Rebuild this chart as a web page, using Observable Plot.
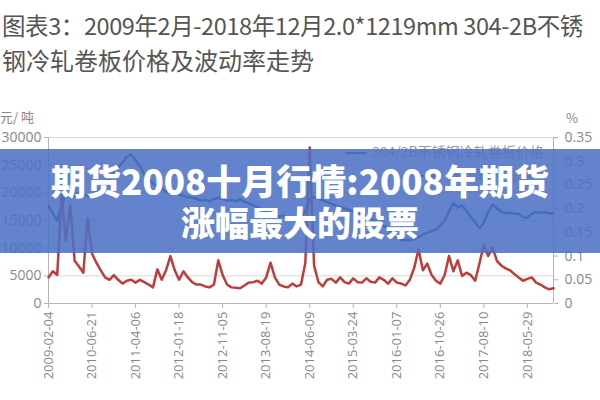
<!DOCTYPE html>
<html>
<head>
<meta charset="utf-8">
<script src="https://cdn.jsdelivr.net/npm/d3@7"></script>
<script src="https://cdn.jsdelivr.net/npm/@observablehq/plot@0.6"></script>
<style>
  html, body { margin: 0; padding: 0; background: #fff; }
  #wrap { position: relative; width: 600px; height: 400px; overflow: hidden; background: #fff;
          font-family: "Noto Sans CJK SC", "Noto Sans", sans-serif; }
  .title { position: absolute; left: 2px; color: #555; font-size: 23.5px; line-height: 28px; white-space: nowrap; }
  .unit { position: absolute; color: #888; font-size: 13px; line-height: 14px; white-space: nowrap; }
  #chart { position: absolute; left: 0; top: 100px; }
  .legend { position: absolute; font-size: 14px; line-height: 16px; color: #999; white-space: nowrap; }
  .legend i { display: inline-block; width: 22px; height: 0; border-top: 2.5px solid; vertical-align: middle; margin-right: 5px; }
  #banner { position: absolute; left: 0; top: 149px; width: 600px; height: 104px; background: rgba(76,114,196,0.87); }
  #banner div { position: absolute; left: 0; width: 600px; text-align: center; color: #fff; font-weight: 900;
                line-height: 38px; white-space: nowrap; font-family: "Noto Sans CJK SC", sans-serif; }
</style>
</head>
<body>
<div id="wrap">
  <div class="title" style="top:11px;letter-spacing:-0.4px">图表3：2009年2月-2018年12月2.0*1219mm 304-2B不锈</div>
  <div class="title" style="top:46px;font-size:24px">钢冷轧卷板价格及波动率走势</div>
  <div class="unit" style="left:0px;top:110px">元/ 吨</div>
  <div class="unit" style="left:566px;top:111px">%</div>
  <div id="chart"></div>
  <div class="legend" style="left:345px;top:143px"><i style="border-color:#24508f"></i>304/2B不锈钢冷轧卷板价格</div>
  <div class="legend" style="left:420px;top:166px"><i style="border-color:#bd3d3d"></i>波动率（右轴）</div>
  <div id="banner">
    <div style="top:12px;font-size:35px">期货2008十月行情:2008年期货</div>
    <div style="top:54px;font-size:34px">涨幅最大的股票</div>
  </div>
</div>
<script>
// x tick labels (category axis, one label every 10 samples)
const dateLabels = ["2009-02-04","2010-06-21","2011-04-06","2012-01-18","2012-11-05","2013-08-19",
                    "2014-06-09","2015-03-24","2016-01-07","2016-10-26","2017-08-10","2018-05-29"];
const priceTicks = [0, 5000, 10000, 15000, 20000, 25000, 30000];
const volTicks = [0, 0.05, 0.1, 0.15, 0.2, 0.25, 0.3, 0.35];

// 304/2B cold-rolled coil price (元/吨)
const price = [17600,16300,15000,17500,19800,19200,19500,20000,19600,19400,
               19800,20100,20500,21300,22400,23500,24600,25500,26500,26900,
               25900,24800,23300,22500,21700,21200,20800,20200,20000,19900,
               19700,19500,19200,19100,18900,18600,18700,18500,18900,19100,
               18900,18600,18700,18500,18800,18400,18100,17800,17400,17000,
               16700,16300,16000,15700,15800,15400,15300,15100,15200,16800,
               18800,19200,18900,18700,18300,18000,17700,17400,17200,16900,
               16600,16400,16000,15600,15300,14900,14500,14000,13500,12600,
               11900,11400,11500,11400,11700,12000,12500,12800,13100,13400,
               14100,15000,16600,18100,17400,17700,16700,15700,14700,13600,
               14600,16600,17900,17200,16600,16300,16400,16200,16200,15600,
               15500,16200,16500,16400,16500,16300,16300];

// price volatility (right axis)
const volatility = [0.055,0.068,0.060,0.228,0.133,0.207,0.090,0.078,0.065,0.180,
                    0.105,0.086,0.070,0.055,0.050,0.060,0.050,0.042,0.048,0.050,
                    0.044,0.050,0.045,0.040,0.034,0.072,0.050,0.070,0.100,0.070,
                    0.050,0.068,0.055,0.045,0.040,0.040,0.036,0.034,0.040,0.091,
                    0.060,0.040,0.034,0.033,0.032,0.038,0.044,0.045,0.048,0.042,
                    0.055,0.086,0.055,0.040,0.036,0.034,0.042,0.036,0.040,0.086,
                    0.329,0.080,0.045,0.036,0.050,0.052,0.044,0.055,0.045,0.042,
                    0.053,0.045,0.044,0.053,0.046,0.044,0.055,0.050,0.042,0.053,
                    0.044,0.042,0.038,0.050,0.075,0.114,0.070,0.084,0.060,0.048,
                    0.042,0.060,0.100,0.068,0.091,0.058,0.065,0.060,0.048,0.085,
                    0.124,0.100,0.118,0.090,0.080,0.074,0.070,0.062,0.055,0.048,
                    0.052,0.055,0.044,0.040,0.034,0.030,0.032];

const k = 30000 / 0.35; // right axis -> left axis units
const lastIdx = price.length - 1;
const tickIdx = dateLabels.map((d, i) => i * 10);

const priceData = price.map((v, i) => ({i, v}));
const volData = volatility.map((v, i) => ({i, v: v * k}));

const axisStyle = {stroke: "#b5b5b5", color: "#888", fontSize: 14, label: null};

const chart = Plot.plot({
  width: 600,
  height: 300,
  marginTop: 37,
  marginBottom: 97,
  marginLeft: 48,
  marginRight: 47,
  x: {domain: [0, lastIdx], axis: null},
  y: {domain: [0, 30000], axis: null},
  style: {fontFamily: "'Open Sans', sans-serif", background: "transparent", overflow: "visible"},
  marks: [
    Plot.gridY(priceTicks, {stroke: "#d8d8d8", strokeOpacity: 1}),
    Plot.ruleX([0], {stroke: "#b5b5b5"}),
    Plot.ruleX([lastIdx], {stroke: "#b5b5b5"}),
    Plot.ruleY([0], {stroke: "#b5b5b5"}),
    Plot.axisY(priceTicks, {...axisStyle, anchor: "left", tickSize: 4, tickPadding: 3, tickFormat: d => String(d)}),
    Plot.axisY(volTicks.map(v => v * k), {...axisStyle, anchor: "right", tickSize: 4, tickPadding: 7,
      tickFormat: d => String(+(d / k).toFixed(2))}),
    Plot.axisX(tickIdx, {...axisStyle, fontSize: 13, anchor: "bottom", tickSize: 5, tickPadding: 3, tickRotate: -90,
      tickFormat: d => dateLabels[Math.round(d / 10)]}),
    Plot.line(priceData, {x: "i", y: "v", stroke: "#24508f", strokeWidth: 2.5}),
    Plot.line(volData, {x: "i", y: "v", stroke: "#bd3d3d", strokeWidth: 2.5})
  ]
});
document.getElementById("chart").appendChild(chart);
</script>
</body>
</html>
